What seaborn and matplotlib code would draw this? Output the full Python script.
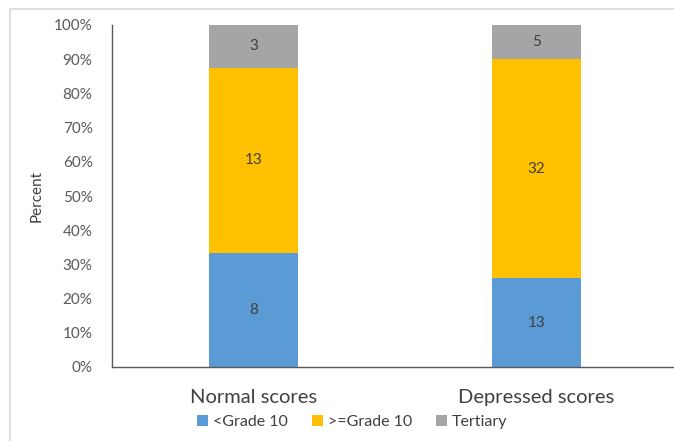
import numpy as np
import pandas as pd
import matplotlib
matplotlib.use("Agg")
import matplotlib.pyplot as plt
from matplotlib.patches import Rectangle, Patch
import seaborn as sns

categories = ["Normal scores", "Depressed scores"]
series_names = ["<Grade 10", ">=Grade 10", "Tertiary"]
below_grade10 = [8, 13]
grade10_plus = [13, 32]
tertiary = [3, 5]
y_ticks = [0, 10, 20, 30, 40, 50, 60, 70, 80, 90, 100]
colors = ["#5B9BD5", "#FFC000", "#A5A5A5"]

sns.set_theme(style="white")
plt.rcParams['font.family'] = ['Lato', 'DejaVu Sans']

counts = np.array([below_grade10, grade10_plus, tertiary], dtype=float)
totals = counts.sum(axis=0)
pct = counts / totals * 100
cum = np.cumsum(pct, axis=0)

fig = plt.figure(figsize=(6.74, 4.41), dpi=100)
ax = fig.add_axes([112/674, 1-367/441, (678-112)/674, (367-25)/441])

# frame around chart area
fig.patches.append(Rectangle((10/674, -0.05), 1.1, 1-9/441+0.05, transform=fig.transFigure,
                             fill=False, edgecolor="#d9d9d9", linewidth=1.2, zorder=0))

for i in reversed(range(3)):
    df = pd.DataFrame({"cat": categories, "val": cum[i]})
    sns.barplot(data=df, x="cat", y="val", order=categories, color=colors[i],
                saturation=1, width=0.315, ax=ax, errorbar=None, linewidth=0)

for j in range(len(categories)):
    for i in range(3):
        start = cum[i-1][j] if i > 0 else 0
        mid = start + pct[i][j] / 2
        ax.text(j, mid, f"{int(counts[i][j])}", ha="center", va="center",
                fontsize=11, color="#404040")

ax.set_xlim(-0.5, 1.5)
ax.set_ylim(0, 100)
ax.set_yticks(y_ticks)
ax.set_yticklabels([f"{t}%" for t in y_ticks], fontsize=11, color="#595959")
ax.tick_params(axis="y", length=0, pad=14)
ax.tick_params(axis="x", length=0, pad=16, labelsize=14.5, labelcolor="#404040")
ax.set_xlabel("")
ax.set_ylabel("Percent", fontsize=11, color="#404040")
ax.yaxis.set_label_coords(-(112-44)/566, 0.5)
for s in ["top", "right"]:
    ax.spines[s].set_visible(False)
for s in ["left", "bottom"]:
    ax.spines[s].set_color("#595959")
    ax.spines[s].set_linewidth(1.0)

handles = [Patch(facecolor=c, edgecolor="none") for c in colors]
fig.legend(handles, series_names, loc="center", bbox_to_anchor=(352/674, 1-422/441),
           ncol=3, frameon=False, fontsize=11.5, handlelength=0.7, handleheight=0.7,
           handletextpad=0.3, columnspacing=1.5, labelcolor="#404040")

fig.savefig("out.png", dpi=100)
